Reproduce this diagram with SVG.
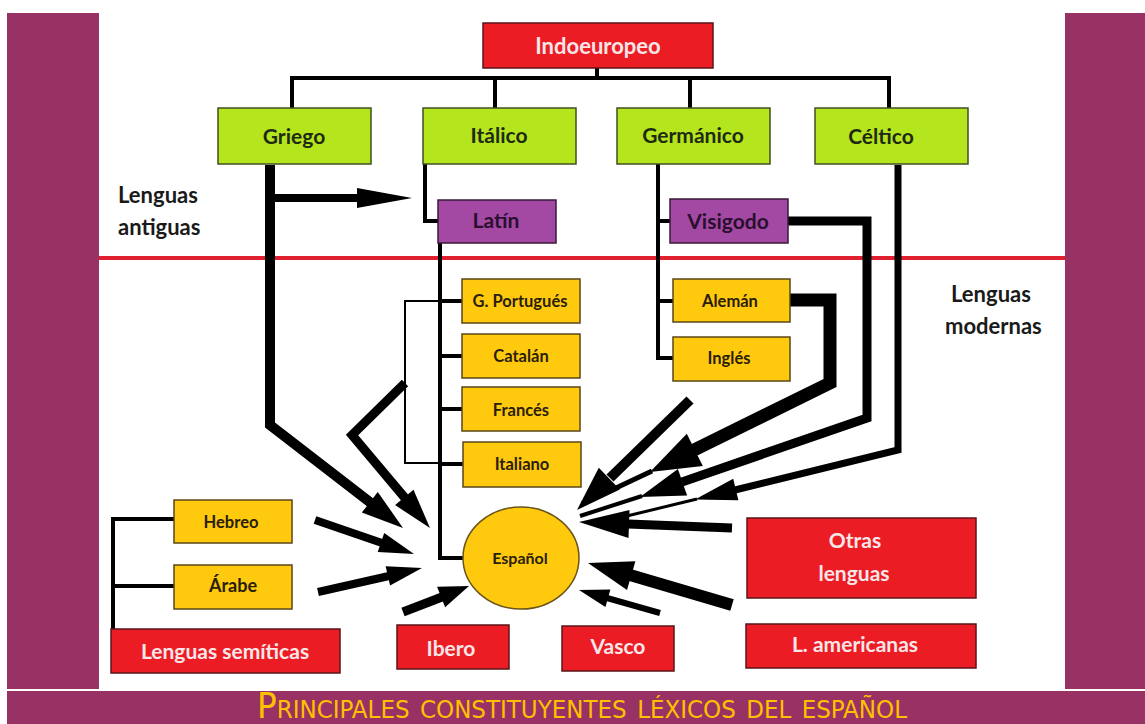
<svg xmlns="http://www.w3.org/2000/svg" width="1145" height="724" viewBox="0 0 1145 724">
<style>
.bg{fill:#983264}
.red{fill:#ec1c24;stroke:#5a1418;stroke-width:1.5}
.grn{fill:#b5e61d;stroke:#3f4f22;stroke-width:1.5}
.pur{fill:#a349a4;stroke:#3a1a3a;stroke-width:1.5}
.yel{fill:#ffc90e;stroke:#5a4618;stroke-width:1.5}
text{font-family:Lato,"Open Sans","Liberation Sans",sans-serif;font-weight:bold;text-anchor:middle}
.tw{fill:#f8e6e8;font-size:21px}
.td{fill:#1f2a14;font-size:21px}
.tp{fill:#2a0f2e;font-size:21px}
.ty{fill:#2a200a;font-size:16.5px}
.side{fill:#1a1a1a;font-size:22px;text-anchor:start}
.ln{fill:none;stroke:#000;stroke-linejoin:miter;stroke-linecap:butt}
.ah{fill:#000}
</style>
<rect width="1145" height="724" fill="#fff"/>
<rect class="bg" x="7" y="13" width="92" height="676"/>
<rect class="bg" x="1065" y="13" width="80" height="676"/>
<rect class="bg" x="7" y="691" width="1138" height="33"/>
<line x1="99" y1="258" x2="1065" y2="258" stroke="#e0202e" stroke-width="4"/>
<text class="side" x="118" y="203">Lenguas</text>
<text class="side" x="118" y="235">antiguas</text>
<text class="side" x="951" y="302">Lenguas</text>
<text class="side" x="945" y="334">modernas</text>

<g id="connectors">
<path class="ln" stroke-width="4" d="M597,68 V78 M290,78 H891 M292,78 V108 M495,78 V108 M690,78 V108 M889,78 V108"/>
<path class="ln" stroke-width="4" d="M425,164 V221 H438"/>
<path class="ln" stroke-width="4" d="M658,164 V358 H673 M658,221 H670 M658,301 H673"/>
<path class="ln" stroke-width="4" d="M440,243 V558 H463 M440,301 H462 M440,356 H462 M440,409 H462 M440,464 H463"/>
<path class="ln" stroke-width="2" d="M440,301 H405 V463 H440"/>
<path class="ln" stroke-width="4" d="M113,629 V519 H174 M113,586 H174"/>
<!-- Griego -->
<path class="ln" stroke-width="8" d="M270,198 H360"/>
<polygon class="ah" points="412,198 357,188 357,208"/>
<path class="ln" stroke-width="10" d="M270,165 V425 L371,503"/>
<polygon class="ah" points="403,528 361.8,512.6 377.8,492"/>
<!-- romance bracket -->
<path class="ln" stroke-width="9" d="M405,383 L352,435 L405,498"/>
<polygon class="ah" points="430,528 395.1,505.1 413.5,489.7"/>
<!-- Hebreo / Árabe -->
<path class="ln" stroke-width="8" d="M315,520 L382,543"/>
<polygon class="ah" points="414,554 377.7,552.1 384.2,533.1"/>
<path class="ln" stroke-width="8" d="M318,592 L389,576"/>
<polygon class="ah" points="422,568 390.1,585.6 385.6,566.2"/>
<!-- Ibero / Vasco -->
<path class="ln" stroke-width="9" d="M403,612 L442,597"/>
<polygon class="ah" points="469,586 445.1,607.2 437.1,586.8"/>
<path class="ln" stroke-width="6" d="M660,613 L607,598"/>
<polygon class="ah" points="579,590 610.4,589.5 605.4,606.9"/>
<!-- L. americanas / Otras -->
<path class="ln" stroke-width="12" d="M732,605 L630,575"/>
<polygon class="ah" points="588,563 635.4,561.2 627,590"/>
<path class="ln" stroke-width="9" d="M732,528 L628,524"/>
<polygon class="ah" points="579,522 629.5,510 628.5,538"/>
<!-- free arrow -->
<path class="ln" stroke-width="10" d="M690,400 L610,478"/>
<polygon class="ah" points="577,510 598.8,467.8 619.8,489.4"/>
<!-- Alemán -->
<path class="ln" stroke-width="13" d="M790,300 H830 V383 L694,450"/>
<polygon class="ah" points="650,472 686.8,433.7 702.8,465.9"/>
<path class="ln" stroke-width="5" d="M652,471 L582,504"/>
<!-- Visigodo -->
<path class="ln" stroke-width="9" d="M788,221 H867 V418 L682,482"/>
<polygon class="ah" points="640,497 677.9,469 687.1,495.4"/>
<path class="ln" stroke-width="4" d="M642,496 L580,516"/>
<!-- Céltico -->
<path class="ln" stroke-width="7" d="M898,165 V450 L735,490"/>
<polygon class="ah" points="695,499.5 733.2,478.8 738.4,500.2"/>
<path class="ln" stroke-width="3" d="M697,499 L598,523"/>
</g>

<g id="indoeuropeo"><rect class="red" x="483" y="23" width="230" height="45"/><text class="tw" x="598" y="54" style="font-size:22px">Indoeuropeo</text></g>
<g id="griego"><rect class="grn" x="218" y="108" width="153" height="56"/><text class="td" x="294" y="144">Griego</text></g>
<g id="italico"><rect class="grn" x="423" y="108" width="153" height="56"/><text class="td" x="499" y="143">Itálico</text></g>
<g id="germanico"><rect class="grn" x="617" y="108" width="153" height="56"/><text class="td" x="693" y="143">Germánico</text></g>
<g id="celtico"><rect class="grn" x="815" y="108" width="153" height="56"/><text class="td" x="881" y="144">Céltico</text></g>
<g id="latin"><rect class="pur" x="438" y="200" width="118" height="43"/><text class="tp" x="496" y="228">Latín</text></g>
<g id="visigodo"><rect class="pur" x="670" y="199" width="118" height="44"/><text class="tp" x="728" y="229">Visigodo</text></g>
<g id="portugues"><rect class="yel" x="462" y="279" width="118" height="44"/><text class="ty" x="520" y="307">G. Portugués</text></g>
<g id="catalan"><rect class="yel" x="462" y="334" width="118" height="44"/><text class="ty" x="521" y="362">Catalán</text></g>
<g id="frances"><rect class="yel" x="462" y="387" width="118" height="44"/><text class="ty" x="521" y="416">Francés</text></g>
<g id="italiano"><rect class="yel" x="463" y="442" width="118" height="45"/><text class="ty" x="522" y="470">Italiano</text></g>
<g id="aleman"><rect class="yel" x="673" y="279" width="117" height="43"/><text class="ty" x="730" y="307">Alemán</text></g>
<g id="ingles"><rect class="yel" x="673" y="337" width="117" height="44"/><text class="ty" x="729" y="364">Inglés</text></g>
<g id="espanol"><ellipse cx="521" cy="558" rx="58" ry="51" fill="#ffc90e" stroke="#6a5418" stroke-width="1.5"/><text class="ty" x="520" y="564" style="font-size:16px">Español</text></g>
<g id="hebreo"><rect class="yel" x="174" y="500" width="118" height="43"/><text class="ty" x="231" y="528">Hebreo</text></g>
<g id="arabe"><rect class="yel" x="174" y="565" width="118" height="44"/><text class="ty" x="233" y="592" style="font-size:18px">Árabe</text></g>
<g id="semiticas"><rect class="red" x="111" y="629" width="229" height="44"/><text class="tw" x="225" y="659">Lenguas semíticas</text></g>
<g id="ibero"><rect class="red" x="397" y="625" width="112" height="44"/><text class="tw" x="451" y="656">Ibero</text></g>
<g id="vasco"><rect class="red" x="562" y="626" width="112" height="45"/><text class="tw" x="618" y="654">Vasco</text></g>
<g id="otras"><rect class="red" x="747" y="518" width="229" height="80"/><text class="tw" x="855" y="548">Otras</text><text class="tw" x="854" y="581">lenguas</text></g>
<g id="americanas"><rect class="red" x="746" y="624" width="230" height="44"/><text class="tw" x="855" y="652">L. americanas</text></g>

<text transform="translate(582,718) scale(1,1.3)" x="0" y="0" fill="#ffc000" style="font-family:'DejaVu Sans Condensed','Liberation Sans Narrow','Liberation Sans',sans-serif;font-weight:normal;font-size:27px;font-variant:small-caps" textLength="650" lengthAdjust="spacingAndGlyphs">Principales constituyentes léxicos del español</text>
</svg>
